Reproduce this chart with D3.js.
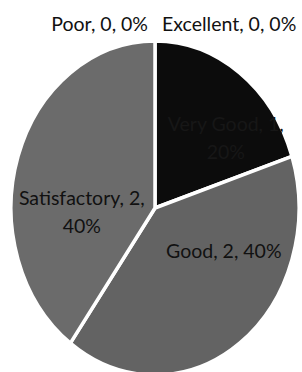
<!DOCTYPE html>
<html>
<head>
<meta charset="utf-8">
<script src="https://cdn.jsdelivr.net/npm/d3@7"></script>
<style>
  html, body { margin: 0; padding: 0; background: #fff; }
  svg { display: block; }
  text { font-family: Lato, "Open Sans", sans-serif; font-size: 19.5px; }
</style>
</head>
<body>
<svg id="chart"></svg>
<script>
// ratings, clockwise from 12 o'clock
const categories = ["Excellent", "Very Good", "Good", "Satisfactory", "Poor"];
const counts = [0, 1, 2, 2, 0];
const sliceColors = ["#3a3a3a", "#0c0c0c", "#636363", "#6b6b6b", "#8a8a8a"];

const width = 302, height = 372;
const cx = 155, cy = 208;
const rx = 144, ry = 167; // the scan is stretched vertically

const svg = d3.select("#chart")
  .attr("width", width)
  .attr("height", height);

const total = d3.sum(counts);
const rows = categories.map((c, i) => ({ name: c, value: counts[i], color: sliceColors[i] }));

const pie = d3.pie()
  .sort(null)
  .value(d => d.value);

const arcs = pie(rows);

const arc = d3.arc().innerRadius(0).outerRadius(rx);

// slices, drawn on a circle then squashed into the ellipse
const g = svg.append("g")
  .attr("transform", "translate(" + cx + "," + cy + ") scale(1," + (ry / rx) + ")");

g.selectAll("path")
  .data(arcs.filter(d => d.value > 0))
  .enter()
  .append("path")
  .attr("d", arc)
  .attr("fill", d => d.data.color)
  .attr("stroke", "#fff")
  .attr("stroke-width", 3.5)
  .attr("vector-effect", "non-scaling-stroke")
  .attr("stroke-linejoin", "round");

// labels: "name, value, pct"
const pct = d3.format(".0%");
const labelText = d => d.data.name + ", " + d.data.value + ", " + pct(d.data.value / total);

const inner = d3.arc().innerRadius(rx * 0.6).outerRadius(rx * 0.6);
const outer = d3.arc().innerRadius(rx * 1.1).outerRadius(rx * 1.1);

// nudges from the centroid, per category (Excel "best fit" placement)
const nudge = {
  "Excellent":    { dx: 7,  dy: 0,   anchor: "start", lines: 1 },
  "Poor":         { dx: -7, dy: 0,   anchor: "end",   lines: 1 },
  "Very Good":    { dx: 20, dy: 10,  anchor: "middle", lines: 2 },
  "Good":         { dx: 18, dy: -38, anchor: "middle", lines: 1 },
  "Satisfactory": { dx: 9,  dy: 34,  anchor: "middle", lines: 2 }
};

const labels = svg.append("g");

arcs.forEach(d => {
  const n = nudge[d.data.name];
  const c = (d.value > 0 ? inner : outer).centroid(d);
  const x = cx + c[0] + n.dx;
  const y = cy + c[1] * (ry / rx) + n.dy;
  const txt = labelText(d);
  const t = labels.append("text")
    .attr("x", x)
    .attr("y", y)
    .attr("text-anchor", n.anchor)
    .attr("fill", d.data.name === "Very Good" ? "#171717" : "#111");
  if (n.lines === 2) {
    const cut = txt.lastIndexOf(" ");
    t.append("tspan").attr("x", x).attr("dy", "-0.3em").text(txt.slice(0, cut));
    t.append("tspan").attr("x", x).attr("dy", "1.45em").text(txt.slice(cut + 1));
  } else {
    t.attr("dy", "0.35em").text(txt);
  }
});
</script>
</body>
</html>
